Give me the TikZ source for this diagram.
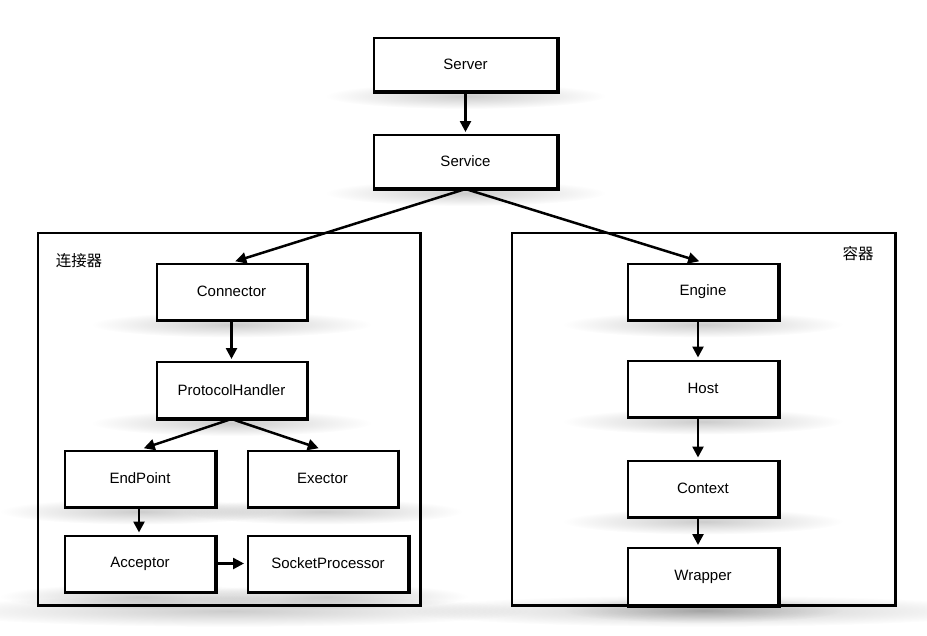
\documentclass[tikz,border=0pt]{standalone}
\usepackage{fontspec}
\setmainfont{Liberation Sans}
\newfontfamily\cjk{Noto Sans CJK SC}
\usetikzlibrary{arrows.meta,fadings}
\pgfdeclarelayer{bg}
\pgfsetlayers{bg,main}
\tikzfading[name=softfade, inner color=transparent!0, outer color=transparent!100]
\begin{document}
\begin{tikzpicture}[x=1pt,y=-1pt,
  box/.style={draw, line width=2pt, fill=white, inner sep=0pt,
    minimum width=150pt, minimum height=56pt,
    font=\fontsize{15}{18}\selectfont},
  bigbox/.style={box, minimum width=183pt, minimum height=53pt},
  frame/.style={draw, line width=1.8pt, inner sep=0pt},
  heavy/.style={line width=3.8pt, line join=miter},
  arr/.style={-{Triangle[width=11pt,length=11pt]}, line width=2.5pt},
  lab/.style={font=\cjk\fontsize{15.5}{17}\selectfont, inner sep=0pt},
  shadowc/.style={fill=black, opacity=0.2, path fading=softfade}
]
\useasboundingbox (0,0) rectangle (927,635);

% containers
\node[frame, minimum width=382pt, minimum height=372pt] (lc) at (229,419) {};
\node[frame, minimum width=383pt, minimum height=372pt] (rc) at (703.5,419) {};
\node[lab] (lcl) at (79,261) {连接器};
\node[lab] (rcl) at (858,254) {容器};

% boxes
\node[bigbox] (server)  at (465.5,64.5) {Server};
\node[bigbox] (service) at (465.5,161.5) {Service};
\node[box] (connector) at (231.5,291.5) {Connector};
\node[box] (protocol)  at (231.5,390) {ProtocolHandler};
\node[box] (endpoint)  at (140,478.5) {EndPoint};
\node[box] (exector)   at (322.5,478.5) {Exector};
\node[box] (acceptor)  at (140,563.5) {Acceptor};
\node[box, minimum width=160pt] (socket) at (328,563.5) {SocketProcessor};
\node[box] (engine)  at (703,291.5) {Engine};
\node[box] (host)    at (703,388.5) {Host};
\node[box] (context) at (703,488.5) {Context};
\node[box, minimum height=57pt] (wrapper) at (703,576.5) {Wrapper};

% heavier right and bottom edges
\foreach \n in {server,service,connector,protocol,endpoint,exector,acceptor,socket,engine,host,context,wrapper}
  \draw[heavy] (\n.north east) -- (\n.south east) -- (\n.south west);
\foreach \n in {lc,rc}
  \draw[heavy, line width=3pt] (\n.north east) -- (\n.south east) -- (\n.south west);

% soft shadows
\begin{pgfonlayer}{bg}
\foreach \n in {server,service,connector,protocol,endpoint,exector,acceptor,socket,engine,host,context,wrapper}
  \fill[shadowc] ([yshift=-4pt]\n.south) ellipse [x radius=140pt, y radius=13pt];
\foreach \n in {lc,rc}
  \fill[shadowc] ([yshift=-5pt]\n.south) ellipse [x radius=300pt, y radius=16pt];
\end{pgfonlayer}

% connectors
\draw[arr] (server.south) -- ([yshift=2pt]service.north);
\draw[arr, shorten >=4pt] (service.south) -- (connector.north);
\draw[arr, shorten >=4pt] (service.south) -- (engine.north);
\draw[arr] (connector.south) -- ([yshift=2pt]protocol.north);
\draw[arr, shorten >=4pt] (protocol.south) -- (endpoint.north);
\draw[arr, shorten >=4pt] (protocol.south) -- (exector.north);
\draw[arr] ([xshift=-1pt]endpoint.south) -- ([xshift=-1pt,yshift=2pt]acceptor.north);
\draw[arr, shorten <=2pt, shorten >=3pt] (acceptor.east) -- (socket.west);
\draw[arr] ([xshift=-5pt]engine.south) -- ([xshift=-5pt,yshift=2pt]host.north);
\draw[arr] ([xshift=-5pt]host.south) -- ([xshift=-5pt,yshift=2pt]context.north);
\draw[arr] ([xshift=-5pt]context.south) -- ([xshift=-5pt,yshift=2pt]wrapper.north);
\end{tikzpicture}
\end{document}
